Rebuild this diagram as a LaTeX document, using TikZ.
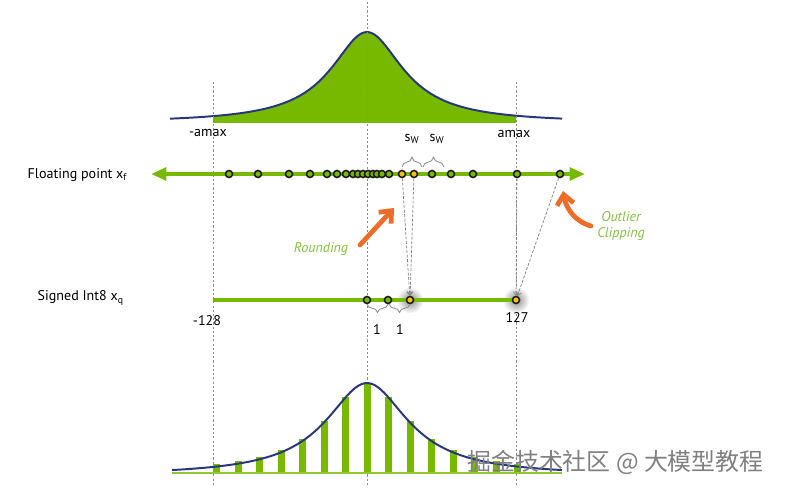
\documentclass[tikz,border=0pt]{standalone}
\usepackage{fontspec}
\setmainfont{PT Sans}
\newfontfamily\cjk{Noto Sans CJK SC}
\usepackage{tikz}
\usetikzlibrary{arrows.meta,positioning,calc,decorations.pathreplacing,shadings}

\definecolor{nvgreen}{RGB}{118,185,0}
\definecolor{curveblue}{RGB}{40,55,125}
\definecolor{dotyellow}{RGB}{245,192,20}
\definecolor{handorange}{RGB}{238,108,40}
\definecolor{notegreen}{RGB}{130,195,60}

\begin{document}
\begin{tikzpicture}[
    x=0.025cm, y=-0.025cm,
    guide/.style={draw=black!45, line width=0.5pt, dash pattern=on 1.5pt off 1.5pt},
    axis/.style={draw=nvgreen, line width=3pt},
    gdot/.style={circle, draw=black!90, fill=nvgreen, line width=1.1pt, inner sep=0pt, minimum size=5pt},
    ydot/.style={gdot, fill=dotyellow},
    glow/.style={circle, inner sep=0pt, minimum size=19pt, shading=radial, inner color=black!45, outer color=white},
    map/.style={-{Straight Barb[length=2.5pt,width=4pt]}, draw=black!50, line width=0.5pt, dash pattern=on 2pt off 1.2pt},
    brc/.style={decorate, decoration={brace, amplitude=7pt}, draw=black!45, line width=0.6pt},
    brcd/.style={decorate, decoration={brace, mirror, amplitude=6pt}, draw=black!45, line width=0.6pt},
    lbl/.style={font=\normalsize, inner sep=1pt},
    hand/.style={-{Straight Barb[length=7pt,width=12pt]}, draw=handorange, line width=3.4pt, line cap=round, line join=round},
    note/.style={text=notegreen, font=\normalsize\itshape, align=center, inner sep=1pt}
]
    \useasboundingbox (0,0) rectangle (788,492);

    % float distribution
    \fill [nvgreen] plot [domain=213:516, samples=80] (\x, {123-91/(1+((\x-367)/44)^2)}) -- (516,123) -- (213,123) -- cycle;
    \draw [curveblue, line width=1.4pt] plot [domain=170:562, samples=120, smooth] (\x, {123-91/(1+((\x-367)/44)^2)});

    % axes
    \coordinate (fl) at (151,174);
    \coordinate (fr) at (585,174);
    \draw [axis, {Triangle[length=11pt,width=9pt]}-{Triangle[length=11pt,width=9pt]}] (fl) -- (fr);
    \draw [axis] (213,300) -- (516,300);

    % guides
    \draw [guide] (213,82) -- (213,486);
    \draw [guide] (367,2) -- (367,486);
    \draw [guide] (516,82) -- (516,486);

    % glow under the int8 targets
    \node [glow] at (410,300) {};
    \node [glow] at (516,300) {};
    \draw [axis] (395,300) -- (516,300);

    % float values
    \foreach \x [count=\i] in {229,258,289,310,327,337,346,353,358,363,368,373,377,382,389,432,451,473}
        \node [gdot] (f\i) at (\x,174) {};
    \node [ydot] (fy1) at (402,174) {};
    \node [ydot] (fy2) at (414,174) {};
    \node [gdot] (famax) at (517,174) {};
    \node [gdot] (fout) at (560,174) {};

    % int8 values
    \node [gdot] (q0) at (367,300) {};
    \node [gdot] (q1) at (388,300) {};
    \node [ydot] (q2) at (410,300) {};
    \node [ydot] (qmax) at (516,300) {};

    \draw [map] (fy1) -- (q2);
    \draw [map] (fy2) -- (q2);
    \draw [map] (famax) -- (qmax);
    \draw [map] (fout) -- (qmax);

    % braces
    \draw [brc] (402,167) -- (422,167);
    \draw [brc] (423,167) -- (444,167);
    \draw [brcd] (367,304) -- (388,304);
    \draw [brcd] (389,304) -- (410,304);

    % labels
    \node [lbl, anchor=west] (lf) at (26,175) {Floating point x\textsubscript{f}};
    \node [lbl, anchor=west] (lq) at (36,298) {Signed Int8 x\textsubscript{q}};
    \node [lbl] (nam) at (208,133) {-amax};
    \node [lbl] (pam) at (514,134) {amax};
    \node [lbl] (sw1) at (412,139) {s\textsubscript{W}};
    \node [lbl] (sw2) at (437,139) {s\textsubscript{W}};
    \node [lbl] (lmin) at (207,321) {-128};
    \node [lbl] (lmax) at (517,317) {127};
    \node [lbl] (one1) at (377,329) {1};
    \node [lbl] (one2) at (400,329) {1};

    % notes
    \node [note] (rnd) at (321,249) {Rounding};
    \node [note] (outl) at (621,226) {Outlier\\Clipping};
    \coordinate (rtail) at (360,245);
    \coordinate (rtip) at (394,208);
    \coordinate (otail) at (591,226);
    \coordinate (otip) at (563,191);
    \draw [hand] (rtail) -- (rtip);
    \draw [hand] (otail) .. controls (574,221) and (566,208) .. (otip);

    % int8 histogram
    \foreach \k in {-7,...,7} {
        \pgfmathsetmacro\h{90/(1+((\k*21.5)/50)^2)}
        \fill [nvgreen] ({367+\k*21.5-3.5},473) rectangle ++(7,-\h);
    }
    \draw [nvgreen!80, line width=1pt] (172,473) -- (562,473);
    \draw [curveblue, line width=1.4pt] plot [domain=172:562, samples=120, smooth] (\x, {473-90*(1/(1+((\x-367)/50)^2)-0.03)/0.97});

    \node [text=black!50, font=\cjk\fontsize{17}{17}\selectfont, anchor=west, inner sep=0pt] (wm) at (467,462) {掘金技术社区 @ 大模型教程};
\end{tikzpicture}
\end{document}
